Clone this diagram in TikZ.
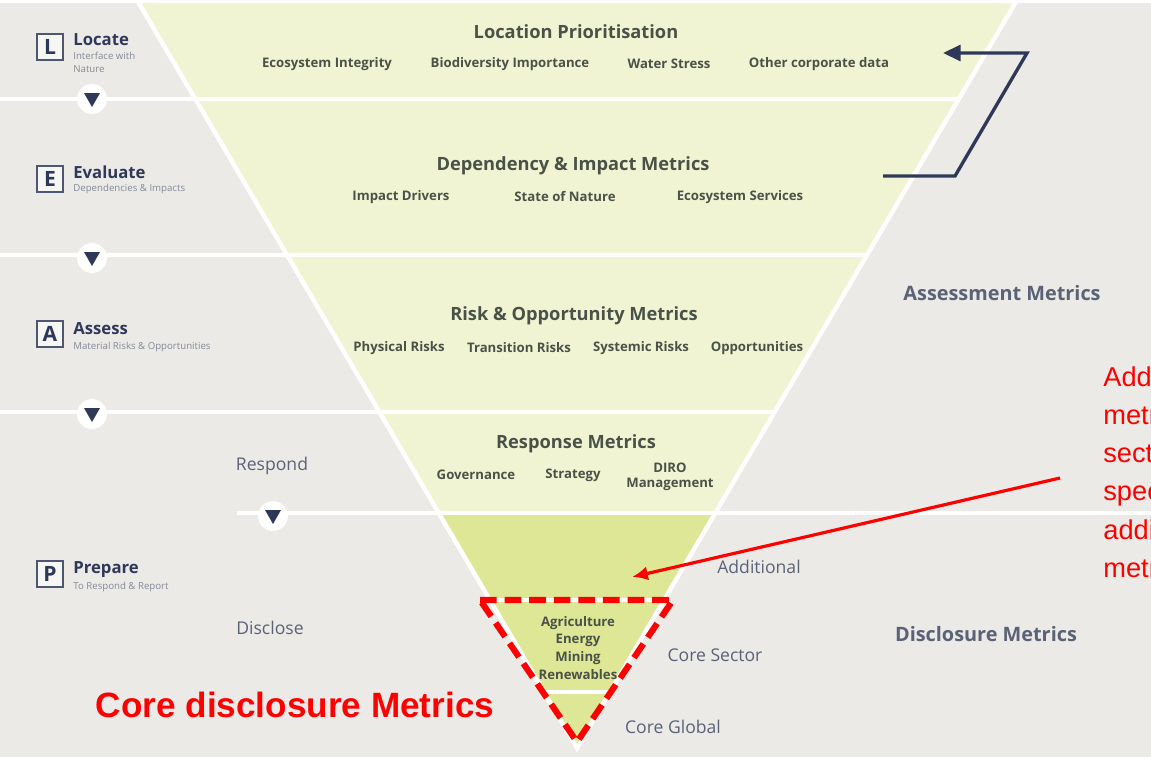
\documentclass[tikz,border=0pt]{standalone}
\usepackage{fontspec}
\setmainfont{Open Sans}
\newfontfamily\notefont{Liberation Sans}
\usetikzlibrary{arrows.meta}

\definecolor{bggrey}{HTML}{EBEAE6}
\definecolor{palegreen}{HTML}{F1F4D3}
\definecolor{leafgreen}{HTML}{DDE795}
\definecolor{inkgreen}{HTML}{4A5248}
\definecolor{navy}{HTML}{2E3859}
\definecolor{slate}{HTML}{5A6276}
\definecolor{alertred}{HTML}{FF0000}

\begin{document}
\begin{tikzpicture}[x=0.02cm,y=-0.02cm,
    title/.style={font=\bfseries\fontsize{10.4}{12}\selectfont,text=inkgreen},
    item/.style={font=\bfseries\fontsize{7.5}{8.5}\selectfont,text=inkgreen,align=center},
    phase/.style={font=\bfseries\fontsize{9.5}{11}\selectfont,text=navy,anchor=west,inner sep=0},
    phasesub/.style={font=\fontsize{5.5}{7}\selectfont,text=slate!75,anchor=north west,align=left,inner sep=0},
    letter/.style={draw=navy!85,line width=1pt,fill=white!55!bggrey,font=\bfseries\fontsize{12}{12}\selectfont,text=navy,minimum size=15pt,inner sep=0},
    tier/.style={font=\fontsize{10}{11}\selectfont,text=slate},
    side/.style={font=\bfseries\fontsize{11.3}{13}\selectfont,text=slate},
    stepdown/.style={circle,fill=white,minimum size=17pt,inner sep=0},
    gap/.style={white,line width=2.5pt}]
  \useasboundingbox (0,0) rectangle (1151,757);
  \clip (0,0) rectangle (1151,757);
  \fill[bggrey] (0,0) rectangle (1151,757);

  % funnel
  \fill[palegreen] (137,0) -- (1017,0) -- (715,513) -- (439,513) -- cycle;
  \fill[leafgreen] (439,513) -- (715,513) -- (577,748) -- cycle;
  \draw[gap] (0,1) -- (1151,1);
  \draw[gap] (0,99) -- (959,99);
  \draw[gap] (0,255) -- (867,255);
  \draw[gap] (0,412) -- (775,412);
  \draw[gap] (237,513) -- (1151,513);
  \draw[gap] (490,600) -- (664,600);
  \draw[gap] (544,692) -- (610,692);
  \draw[gap] (137,0) -- (577,748) -- (1017,0);

  % stages on the left
  \node[letter] (boxL) at (50,47) {L};
  \node[phase] (locate) at (73,40) {Locate};
  \node[phasesub] (locatesub) at (73,52) {Interface with\\Nature};
  \node[letter] (boxE) at (50,179) {E};
  \node[phase] (evaluate) at (73,172) {Evaluate};
  \node[phasesub] (evaluatesub) at (73,184) {Dependencies \& Impacts};
  \node[letter] (boxA) at (50,334) {A};
  \node[phase] (assess) at (73,329) {Assess};
  \node[phasesub] (assesssub) at (73,342) {Material Risks \& Opportunities};
  \node[letter] (boxP) at (50,574) {P};
  \node[phase] (prepare) at (73,570) {Prepare};
  \node[phasesub] (preparesub) at (73,582) {To Respond \& Report};

  \node[stepdown] (down1) at (92,99) {};
  \fill[navy] (84,93) -- (100,93) -- (92,107) -- cycle;
  \node[stepdown] (down2) at (92,258) {};
  \fill[navy] (84,252) -- (100,252) -- (92,266) -- cycle;
  \node[stepdown] (down3) at (92,414) {};
  \fill[navy] (84,408) -- (100,408) -- (92,422) -- cycle;
  \node[stepdown] (down4) at (273,516) {};
  \fill[navy] (265,510) -- (281,510) -- (273,524) -- cycle;

  % funnel contents
  \node[title] (locprio) at (576,32) {Location Prioritisation};
  \node[item] (ecoint) at (327,64) {Ecosystem Integrity};
  \node[item] (biodiv) at (510,64) {Biodiversity Importance};
  \node[item] (water) at (669,64) {Water Stress};
  \node[item] (corpdata) at (819,64) {Other corporate data};

  \node[title] (depimp) at (573,166) {Dependency \& Impact Metrics};
  \node[item] (drivers) at (401,197) {Impact Drivers};
  \node[item] (nature) at (565,197) {State of Nature};
  \node[item] (services) at (740,197) {Ecosystem Services};

  \node[title] (riskopp) at (574,316) {Risk \& Opportunity Metrics};
  \node[item] (physical) at (399,348) {Physical Risks};
  \node[item] (transition) at (519,348) {Transition Risks};
  \node[item] (systemic) at (641,348) {Systemic Risks};
  \node[item] (opps) at (757,348) {Opportunities};

  \node[title] (response) at (576,444) {Response Metrics};
  \node[item] (governance) at (476,475) {Governance};
  \node[item] (strategy) at (573,475) {Strategy};
  \node[item] (diro) at (670,477) {DIRO\\Management};

  \node[item,font=\bfseries\fontsize{7.5}{10.2}\selectfont] (sectors) at (578,648) {Agriculture\\Energy\\Mining\\Renewables};

  % tier labels
  \node[tier] (respond) at (272,466) {Respond};
  \node[tier] (disclose) at (270,628) {Disclose};
  \node[tier] (additional) at (759,567) {Additional};
  \node[tier] (coresector) at (715,655) {Core Sector};
  \node[tier] (coreglobal) at (673,727) {Core Global};
  \node[side] (assessment) at (1002,293) {Assessment Metrics};
  \node[side] (disclosure) at (986,634) {Disclosure Metrics};

  % feedback loop
  \coordinate (loopstart) at (883,176);
  \coordinate (loopfoot) at (955,176);
  \coordinate (loophead) at (1027,53);
  \coordinate (loopend) at (943,53);
  \draw[navy,line width=1.9pt,-{Triangle[length=10pt,width=9pt]}] (loopstart) -- (loopfoot) -- (loophead) -- (loopend);

  % core metrics highlight
  \draw[alertred,line width=3.5pt,dash pattern=on 9.5pt off 4.5pt] (480,600) -- (673,600) -- (577,742) -- cycle;
  \node[font=\notefont\bfseries\fontsize{20}{22}\selectfont,text=alertred] (coretag) at (295,705) {Core disclosure Metrics};
  \node[anchor=north west,align=left,inner sep=0,text=alertred,font=\notefont\fontsize{15.5}{21.8}\selectfont] (note) at (1103,366) {Additional\\metrics\\sector\\specific\\additional\\metrics};
  \coordinate (notetail) at (1060,478);
  \coordinate (notetip) at (632,577);
  \draw[alertred,line width=1.8pt,-{Latex[length=9pt,width=8pt]}] (notetail) -- (notetip);
\end{tikzpicture}
\end{document}
